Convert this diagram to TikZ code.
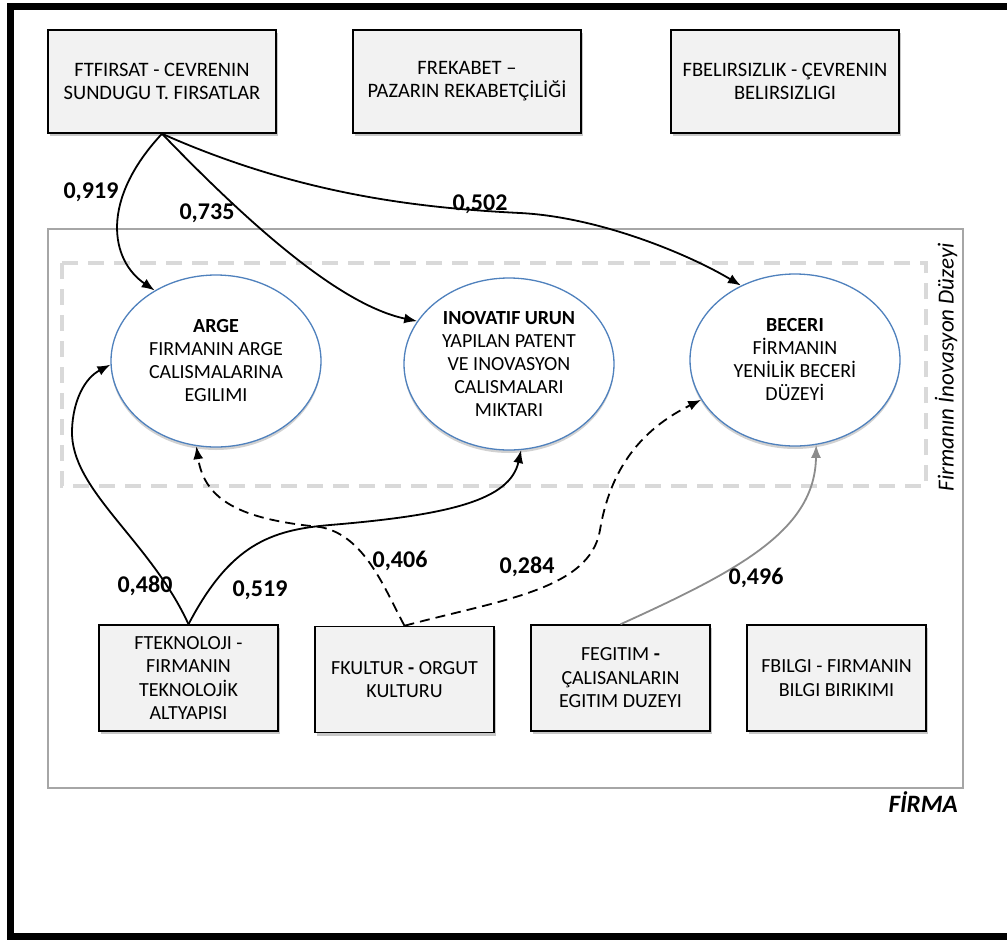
\documentclass[tikz,border=0pt]{standalone}
\usepackage{fontspec}
\setmainfont{Carlito}
\usetikzlibrary{arrows.meta,shapes.geometric,shadows}
\definecolor{boxfill}{HTML}{F2F2F2}
\definecolor{ellblue}{HTML}{4F81BD}
\definecolor{firmagray}{HTML}{A6A6A6}
\definecolor{dashgray}{HTML}{D9D9D9}
\definecolor{arrgray}{HTML}{8C8C8C}
\begin{document}
\begin{tikzpicture}[x=1pt,y=-1pt,
  fbox/.style={draw=black,line width=1.5pt,fill=boxfill,align=center,inner sep=0pt,
    minimum width=228pt,minimum height=103pt,font=\fontsize{20.5}{23}\selectfont,
    drop shadow={shadow xshift=1.5pt,shadow yshift=-3pt,fill=black,opacity=0.22}},
  bbox/.style={fbox,minimum width=179pt,minimum height=106pt,font=\fontsize{20}{23.5}\selectfont},
  eln/.style={ellipse,draw=ellblue,line width=1.3pt,fill=white,align=center,inner sep=0pt,
    minimum width=210pt,minimum height=172pt,font=\fontsize{20}{23}\selectfont,
    drop shadow={shadow xshift=0pt,shadow yshift=-3pt,fill=black,opacity=0.18}},
  conn/.style={line width=1.8pt,-{Latex[length=13pt,width=10pt]}},
  dconn/.style={conn,dash pattern=on 10pt off 6pt},
  gconn/.style={conn,draw=arrgray},
  lbl/.style={font=\fontsize{24}{28}\selectfont\bfseries,inner sep=0pt}
]
\useasboundingbox (0,0) rectangle (1007,943);
\fill[white] (0,0) rectangle (1007,943);
% outer frame
\draw[line width=7pt] (1015,6) -- (10,6) -- (10,936) -- (1015,936);
% firma rectangle
\draw[firmagray,line width=2.5pt] (48,229) rectangle (963,788);
% innovation level dashed rectangle
\draw[dashgray,line width=4pt,dash pattern=on 16pt off 10pt] (62,263) rectangle (926,486);

% top boxes
\node[fbox] (ft) at (162,81.5) {FTFIRSAT - CEVRENIN\\SUNDUGU T. FIRSATLAR};
\node[fbox] (fr) at (467,81.5) {FREKABET --\\PAZARIN REKABETÇİLİĞİ};
\node[fbox] (fb) at (785,81.5) {FBELIRSIZLIK - ÇEVRENIN\\BELIRSIZLIGI};

% ellipses
\node[eln] (arge) at (216,361) {\textbf{ARGE}\\FIRMANIN ARGE\\CALISMALARINA\\EGILIMI};
\node[eln] (ino) at (509,364) {\textbf{INOVATIF URUN}\\YAPILAN PATENT\\VE INOVASYON\\CALISMALARI\\MIKTARI};
\node[eln] (bec) at (795,360) {\textbf{BECERI}\\FİRMANIN\\YENİLİK BECERİ\\DÜZEYİ};

% bottom boxes
\node[bbox] (tek) at (188.5,678) {FTEKNOLOJI -\\FIRMANIN\\TEKNOLOJİK\\ALTYAPISI};
\node[bbox] (kul) at (404.5,679.5) {FKULTUR \textbf{-} ORGUT\\KULTURU};
\node[bbox] (egi) at (620.5,678) {FEGITIM \textbf{-}\\ÇALISANLARIN\\EGITIM DUZEYI};
\node[bbox] (bil) at (836.5,678) {FBILGI - FIRMANIN\\BILGI BIRIKIMI};

% side labels
\node[font=\fontsize{25}{28}\selectfont\bfseries\itshape,anchor=east,inner sep=0pt] (firma) at (958,802) {FİRMA};
\node[rotate=90,font=\fontsize{23}{26}\selectfont\itshape,inner sep=0pt] (duz) at (946,367) {Firmanın İnovasyon Düzeyi};

% connectors
\draw[conn] (ft.south) .. controls (100,200) and (110,260) .. (arge.131);
\draw[conn] (ft.south) .. controls (250,225) and (340,305) .. (ino.155);
\draw[conn] (ft.south) .. controls (300,195) and (420,208) .. (520,213)
  .. controls (600,217) and (690,255) .. (bec.126);
\draw[conn] (tek.north) .. controls (150,540) and (70,490) .. (72,430)
  .. controls (73,400) and (85,378) .. (arge.182);
\draw[conn] (tek.north) .. controls (230,545) and (270,530) .. (330,525)
  .. controls (450,515) and (510,500) .. (ino.278);
\draw[dconn] (kul.north) .. controls (385,590) and (365,535) .. (320,527)
  .. controls (250,520) and (205,505) .. (arge.257);
\draw[dconn] (kul.north) .. controls (500,600) and (590,590) .. (600,530)
  .. controls (610,470) and (640,430) .. (bec.203);
\draw[gconn] (egi.north) .. controls (740,570) and (815,530) .. (bec.284);

% coefficient labels
\node[lbl] (l1) at (91,192) {0,919};
\node[lbl] (l2) at (207,213) {0,735};
\node[lbl] (l3) at (480,204) {0,502};
\node[lbl] (l4) at (145,586) {0,480};
\node[lbl] (l5) at (260,590) {0,519};
\node[lbl] (l6) at (400,561) {0,406};
\node[lbl] (l7) at (527,567) {0,284};
\node[lbl] (l8) at (756,578) {0,496};
\end{tikzpicture}
\end{document}
